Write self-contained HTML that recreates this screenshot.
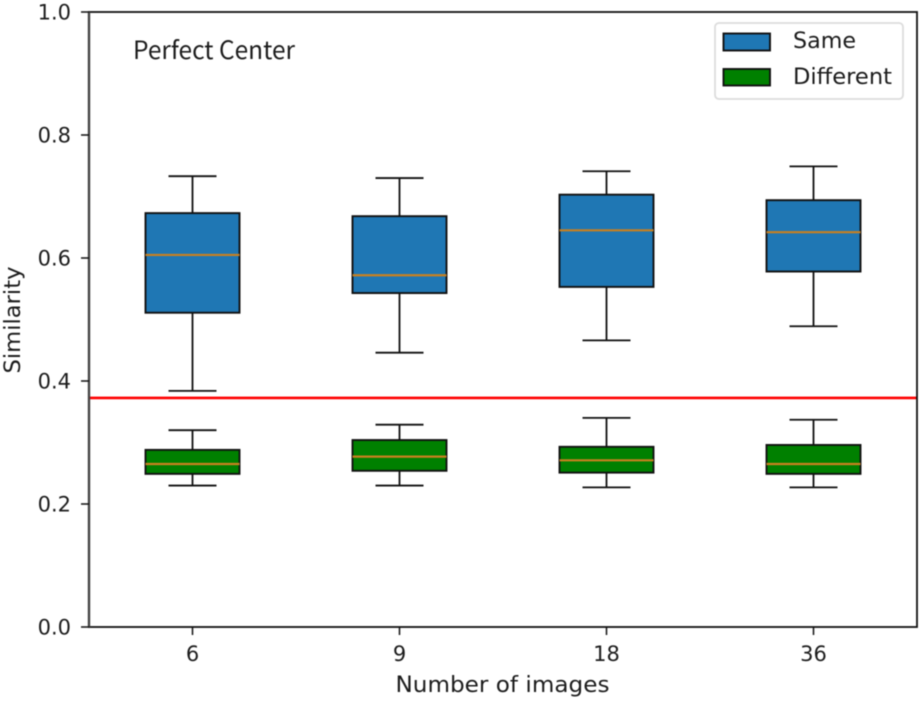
<!DOCTYPE html>
<html>
<head>
<meta charset="utf-8">
<style>
html,body{margin:0;padding:0;background:#fff;}
svg{display:block;filter:blur(0.45px);}
text{font-family:"DejaVu Sans",sans-serif;fill:#1c1c1c;}
</style>
</head>
<body>
<svg id="chart" width="922" height="702" viewBox="0 0 922 702" xmlns="http://www.w3.org/2000/svg"></svg>
<script>
const categories = ["6", "9", "18", "36"];
const yTicks = [0.0, 0.2, 0.4, 0.6, 0.8, 1.0];
const yTickLabels = ["0.0", "0.2", "0.4", "0.6", "0.8", "1.0"];
const sameLow = [0.384, 0.446, 0.466, 0.489];
const sameQ1 = [0.511, 0.543, 0.553, 0.578];
const sameMedian = [0.605, 0.572, 0.645, 0.642];
const sameQ3 = [0.673, 0.668, 0.703, 0.694];
const sameHigh = [0.733, 0.730, 0.741, 0.749];
const diffLow = [0.230, 0.230, 0.227, 0.227];
const diffQ1 = [0.249, 0.254, 0.251, 0.249];
const diffMedian = [0.265, 0.277, 0.271, 0.265];
const diffQ3 = [0.288, 0.304, 0.293, 0.296];
const diffHigh = [0.320, 0.329, 0.340, 0.337];
const thresholdValue = [0.3725];

const svg = document.getElementById('chart');
const NS = 'http://www.w3.org/2000/svg';
const plotL = 89, plotR = 917, plotT = 12, plotB = 627;
function y(v){ return plotB - v * (plotB - plotT); }
function x(i){ return 192.5 + i * 207; }
const boxHalf = 47, capHalf = 24;
const ink = '#111';
const medianColor = '#c9801f';

function add(tag, attrs, name, parent){
  const el = document.createElementNS(NS, tag);
  for (const k in attrs) el.setAttribute(k, attrs[k]);
  
  
  (parent || svg).appendChild(el);
  return el;
}
function line(x1, y1, x2, y2, stroke, w, name, parent){
  return add('line', {x1, y1, x2, y2, stroke, 'stroke-width': w}, name, parent);
}
function label(txt, px, py, size, anchor, name, extra){
  const t = add('text', Object.assign({x: px, y: py, 'font-size': size, 'text-anchor': anchor}, extra || {}), name);
  t.textContent = txt;
  return t;
}
function drawBox(i, low, q1, med, q3, high, fill, name){
  const g = add('g', {}, name + '-' + categories[i]);
  const cx = x(i);
  line(cx, y(high), cx, y(q3), ink, 1.8, 'whisker-upper', g);
  line(cx, y(q1), cx, y(low), ink, 1.8, 'whisker-lower', g);
  line(cx - capHalf, y(high), cx + capHalf, y(high), ink, 1.8, 'cap-upper', g);
  line(cx - capHalf, y(low), cx + capHalf, y(low), ink, 1.8, 'cap-lower', g);
  add('rect', {x: cx - boxHalf, y: y(q3), width: boxHalf * 2, height: y(q1) - y(q3), fill, stroke: ink, 'stroke-width': 1.9}, 'box', g);
  line(cx - boxHalf, y(med), cx + boxHalf, y(med), medianColor, 2.2, 'median', g);
}

categories.forEach((c, i) => {
  drawBox(i, sameLow[i], sameQ1[i], sameMedian[i], sameQ3[i], sameHigh[i], '#1f77b4', 'same-box');
  drawBox(i, diffLow[i], diffQ1[i], diffMedian[i], diffQ3[i], diffHigh[i], '#008000', 'different-box');
});

line(plotL, y(thresholdValue[0]), plotR, y(thresholdValue[0]), '#ff0000', 2.6, 'threshold-line');

add('rect', {x: plotL, y: plotT, width: plotR - plotL, height: plotB - plotT, fill: 'none', stroke: ink, 'stroke-width': 1.8}, 'plot-frame');
line(plotL, plotT, plotL, plotB, '#444', 2.4, 'left-spine');

yTicks.forEach((v, i) => {
  line(plotL - 8, y(v), plotL, y(v), ink, 1.5, 'y-tick');
  label(yTickLabels[i], 71, y(v) + 7.5, 21, 'end', 'y-tick-label');
});
categories.forEach((c, i) => {
  line(x(i), plotB, x(i), plotB + 8, ink, 1.5, 'x-tick');
  label(c, x(i), plotB + 34, 21, 'middle', 'x-tick-label');
});

label('Number of images', 502.5, 692, 22, 'middle', 'x-axis-title', {textLength: 214, lengthAdjust: 'spacingAndGlyphs'});
label('Similarity', 20, 320, 22, 'middle', 'y-axis-title', {transform: 'rotate(-90 20 320)', textLength: 107, lengthAdjust: 'spacingAndGlyphs'});
label('Perfect Center', 133, 59, 25, 'start', 'chart-annotation', {textLength: 162, lengthAdjust: 'spacingAndGlyphs', style: 'font-family:"Noto Sans CJK KR","Liberation Sans",sans-serif'});

const lg = add('g', {}, 'legend');
add('rect', {x: 715, y: 23, width: 188, height: 76, rx: 4, fill: '#fff', stroke: '#dcdcdc', 'stroke-width': 1.8}, 'legend-frame', lg);
add('rect', {x: 723.5, y: 33.5, width: 46.5, height: 17, fill: '#1f77b4', stroke: ink, 'stroke-width': 1.9}, 'legend-swatch-same', lg);
add('rect', {x: 723.5, y: 69, width: 46.5, height: 16.5, fill: '#008000', stroke: ink, 'stroke-width': 1.9}, 'legend-swatch-different', lg);
label('Same', 793, 48, 22, 'start', 'legend-entry-same', {textLength: 63, lengthAdjust: 'spacingAndGlyphs'});
label('Different', 793, 84, 22, 'start', 'legend-entry-different', {textLength: 99, lengthAdjust: 'spacingAndGlyphs'});
</script>
</body>
</html>
